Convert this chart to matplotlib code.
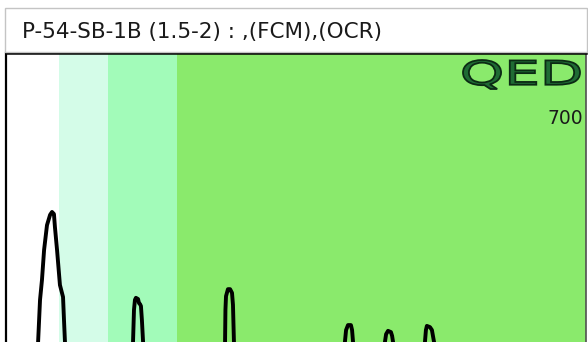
import matplotlib
matplotlib.use("Agg")
import matplotlib.pyplot as plt
from matplotlib.patches import Rectangle, PathPatch
from matplotlib.textpath import TextPath
from matplotlib.font_manager import FontProperties
from matplotlib.transforms import Affine2D

# ---- data ----
title = "P-54-SB-1B (1.5-2) : ,(FCM),(OCR)"
scale_label = "700"
band_edges = [0.0, 2.74, 5.28, 8.84, 30.0]
band_colors = ["#ffffff", "#d4fce8", "#a2fbb9", "#8aea6c"]

time = [0.0, 1.60, 1.66, 1.76, 1.86, 1.97, 2.12, 2.28, 2.38, 2.48, 2.53, 2.64, 2.79, 2.95, 3.00, 3.05, 3.10,
        6.52, 6.57, 6.62, 6.67, 6.72, 6.83, 6.88, 6.93, 6.98, 7.03, 7.09, 7.14,
        11.28, 11.33, 11.35, 11.38, 11.48, 11.59, 11.69, 11.74, 11.79, 11.84,
        17.48, 17.53, 17.59, 17.69, 17.84, 17.90, 17.95, 18.00,
        19.55, 19.60, 19.66, 19.76, 19.91, 19.97, 20.02, 20.07,
        21.62, 21.67, 21.72, 21.77, 21.93, 22.03, 22.14, 22.19, 30.0]
signal = [-60, -60, 0, 102, 150, 223, 283, 308, 315, 310, 279, 223, 138, 109, 53, 0, -60,
          -60, 0, 78, 102, 107, 104, 94, 92, 87, 53, 0, -60,
          -60, 0, 78, 111, 128, 128, 119, 90, 0, -60,
          -60, 0, 29, 41, 41, 29, 0, -60,
          -60, 0, 19, 27, 24, 15, 0, -60,
          -60, 0, 29, 39, 36, 29, 0, -60, -60]

W, H = 588, 342
fig = plt.figure(figsize=(W / 100, H / 100), dpi=100)
fig.patch.set_facecolor("white")

# main plot area
left, right, top = 6, 586, 53
ax = fig.add_axes([left / W, 0, (right - left) / W, 1 - top / H])
ax.set_xlim(0, 30)
ax.set_ylim(0, 700)
for i in range(len(band_colors)):
    ax.axvspan(band_edges[i], band_edges[i + 1], color=band_colors[i], lw=0, zorder=0)
ax.plot(time, signal, color="black", lw=2.8, solid_joinstyle="round", solid_capstyle="round", zorder=2)
ax.set_xticks([]); ax.set_yticks([])
ax.spines["bottom"].set_visible(False)
ax.spines["left"].set_color("black"); ax.spines["left"].set_linewidth(1.6)
ax.spines["top"].set_color("black"); ax.spines["top"].set_linewidth(1.8)
ax.spines["right"].set_color("#505050"); ax.spines["right"].set_linewidth(1.2)

# overlay for decorations
ov = fig.add_axes([0, 0, 1, 1], zorder=3)
ov.set_xlim(0, W); ov.set_ylim(H, 0)
ov.axis("off")
ov.patch.set_alpha(0)
ov.add_patch(Rectangle((5, 8), 582, 44, facecolor="white", edgecolor="#c4c4c4", lw=1.0))
ov.text(22, 32, title, fontsize=15.5, family="DejaVu Sans", color="#1a1a1a", va="center", ha="left")
ov.text(583, 119, scale_label, fontsize=13.5, family="DejaVu Sans", color="#1a1a1a", va="center", ha="right")

# QED logo
tp = TextPath((0, 0), "QED", size=1, prop=FontProperties(family="DejaVu Sans"))
ext = tp.get_extents()
x0, x1, y0, y1 = 463, 580, 60, 89
tr = Affine2D().translate(-ext.x0, -ext.y0).scale((x1 - x0) / ext.width, -(y1 - y0) / ext.height).translate(x0, y1)
ov.add_patch(PathPatch(tr.transform_path(tp), facecolor="#1f6b34", edgecolor="#0b2a14", lw=1.3))

fig.savefig("out.png", dpi=100, facecolor="white")
